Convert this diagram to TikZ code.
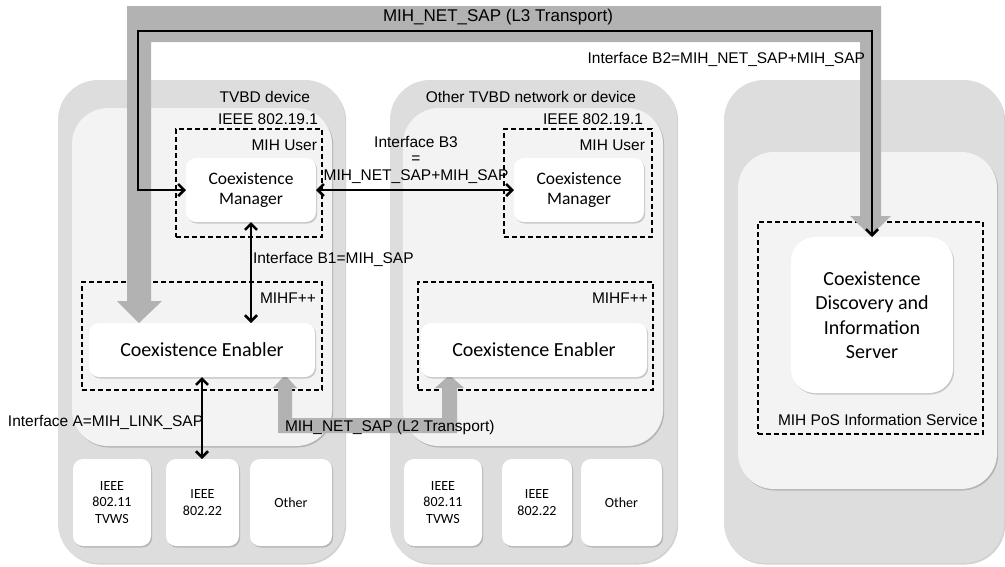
\documentclass[tikz,border=0pt]{standalone}
\usepackage{fontspec}
\setmainfont{Liberation Sans}
\newfontfamily\calfont{Carlito}
\usetikzlibrary{arrows.meta,shadows}
\definecolor{outerg}{HTML}{DDDDDD}
\definecolor{innerg}{HTML}{F3F3F3}
\definecolor{bandg}{HTML}{B2B2B2}
\newcommand{\mybox}[7]{\node[#6, minimum width={(#4-#2)*1pt}, minimum height={(#5-#3)*1pt}] (#1) at ({(#2+#4)/2},{(#3+#5)/2}) {#7};}
\begin{document}
\begin{tikzpicture}[x=1pt,y=-1pt,
  softshadow/.style={drop shadow={shadow xshift=1.2pt, shadow yshift=-1.5pt, opacity=0.18, fill=black}},
  outerbox/.style={fill=outerg, draw=none, rounded corners=40pt, inner sep=0pt, outer sep=0pt, softshadow},
  innerbox/.style={fill=innerg, draw=none, rounded corners=36pt, inner sep=0pt, outer sep=0pt, softshadow},
  dashbox/.style={draw=black, line width=1.3pt, dash pattern=on 5pt off 3pt, inner sep=0pt, outer sep=0pt},
  wbox/.style={fill=white, draw=none, rounded corners=10pt, inner sep=0pt, outer sep=0pt, align=center, softshadow},
  cmfont/.style={font=\calfont\fontsize{17.5}{20}\selectfont},
  cefont/.style={font=\calfont\fontsize{20}{24.5}\selectfont},
  smfont/.style={font=\calfont\fontsize{14}{16.7}\selectfont},
  lbl/.style={inner sep=0pt, outer sep=0pt, font=\fontsize{15.5}{18}\selectfont, align=center},
  conn/.style={draw=black, line width=2.6pt, line join=miter,
    arrows={Straight Barb[length=6pt,width=12pt]-Straight Barb[length=6pt,width=12pt]}},
  band/.style={fill=bandg}
]
\useasboundingbox (0,0) rectangle (1005,566);

% containers
\mybox{lo}{58}{80}{345}{563}{outerbox}{}
\mybox{li}{72}{108}{332}{446}{innerbox}{}
\mybox{mo}{390}{80}{677}{563}{outerbox}{}
\mybox{mi}{403}{108}{663}{446}{innerbox}{}
\mybox{ro}{724}{80}{1004}{563}{outerbox}{}
\mybox{ri}{738}{152}{997}{489}{innerbox}{}

% dashed groups
\mybox{lu}{176}{129}{322}{237}{dashbox}{}
\mybox{mu}{504}{129}{652}{237}{dashbox}{}
\mybox{lf}{82}{282}{322}{390}{dashbox}{}
\mybox{mf}{418}{282}{653}{390}{dashbox}{}
\mybox{pos}{758}{222}{983}{434}{dashbox}{}

% grey transport bands
\fill[band] (139,323) -- (117,301) -- (127,301) -- (127,6) -- (881,6) -- (881,216) -- (891,216)
  -- (870.5,236) -- (850,216) -- (860,216) -- (860,42) -- (151,42) -- (151,301) -- (162,301) -- cycle;
\fill[band] (285,375) -- (273,388) -- (278,388) -- (278,433) -- (457,433) -- (457,388) -- (464,388)
  -- (449.5,375) -- (435,388) -- (442,388) -- (442,418) -- (292,418) -- (292,388) -- (297,388) -- cycle;

% white function boxes
\mybox{cm1}{186}{158}{316}{222}{wbox,cmfont}{Coexistence\\Manager}
\mybox{cm2}{514}{158}{644}{222}{wbox,cmfont}{Coexistence\\Manager}
\mybox{ce1}{89}{323}{315}{377}{wbox,cefont}{Coexistence Enabler}
\mybox{ce2}{421}{323}{647}{377}{wbox,cefont}{Coexistence Enabler}
\mybox{cdis}{791}{237}{953}{393}{wbox,cefont,rounded corners=24pt}{Coexistence\\Discovery and\\Information\\Server}

\mybox{b11}{73}{459}{151}{546}{wbox,smfont}{IEEE\\802.11\\TVWS}
\mybox{b12}{166}{459}{239}{546}{wbox,smfont}{IEEE\\802.22}
\mybox{b13}{250}{459}{332}{546}{wbox,smfont}{Other}
\mybox{b21}{404}{459}{482}{546}{wbox,smfont}{IEEE\\802.11\\TVWS}
\mybox{b22}{502}{459}{572}{546}{wbox,smfont}{IEEE\\802.22}
\mybox{b23}{581}{459}{662}{546}{wbox,smfont}{Other}

% black interface connectors
\draw[conn] (cm1.west) -| (138,31) -| (cdis.north);
\draw[conn] (cm1.east) -- (cm2.west);
\draw[conn] (cm1.south) -- (cm1.south |- ce1.north);
\draw[conn] (ce1.south) -- (ce1.south |- b12.north);

% labels
\node[lbl, font=\fontsize{17}{20}\selectfont, anchor=base] (l3) at (498,21) {MIH\_NET\_SAP (L3 Transport)};
\node[lbl, anchor=base east] (ib2) at (865,63.5) {Interface B2=MIH\_NET\_SAP+MIH\_SAP};
\node[lbl, anchor=base east] (tvbd) at (310,102) {TVBD device};
\node[lbl, anchor=base east] (ieee1) at (318,124.5) {IEEE 802.19.1};
\node[lbl, anchor=base east] (mu1) at (317,150) {MIH User};
\node[lbl, anchor=base east] (other) at (636,102) {Other TVBD network or device};
\node[lbl, anchor=base east] (ieee2) at (643,124.5) {IEEE 802.19.1};
\node[lbl, anchor=base east] (mu2) at (645,150) {MIH User};
\node[lbl, anchor=base] (ib3a) at (416,147) {Interface B3};
\node[lbl, anchor=base] (ib3b) at (416,163) {=};
\node[lbl, anchor=base] (ib3c) at (416,180.5) {MIH\_NET\_SAP+MIH\_SAP};
\node[lbl, anchor=base west] (ib1) at (253,263.5) {Interface B1=MIH\_SAP};
\node[lbl, anchor=base east] (mf1) at (316,303.5) {MIHF++};
\node[lbl, anchor=base east] (mf2) at (648,303.5) {MIHF++};
\node[lbl, anchor=base west] (ia) at (8,426) {Interface A=MIH\_LINK\_SAP};
\node[lbl, anchor=base west] (l2) at (285,431) {MIH\_NET\_SAP (L2 Transport)};
\node[lbl, anchor=base west] (posl) at (778,425.5) {MIH PoS Information Service};
\end{tikzpicture}
\end{document}
